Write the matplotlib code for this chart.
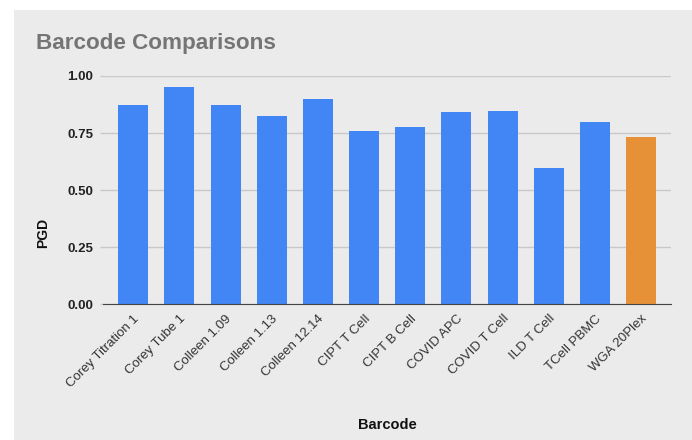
import matplotlib
matplotlib.use('Agg')
import matplotlib.pyplot as plt
from matplotlib.patches import Rectangle

plt.rcParams['font.family'] = ['Liberation Sans', 'DejaVu Sans']

barcodes = ['Corey Titration 1', 'Corey Tube 1', 'Colleen 1.09', 'Colleen 1.13', 'Colleen 12.14',
            'CIPT T Cell', 'CIPT B Cell', 'COVID APC', 'COVID T Cell', 'ILD T Cell',
            'TCell PBMC', 'WGA 20Plex']
pgd = [0.873, 0.950, 0.873, 0.826, 0.898, 0.758, 0.775, 0.841, 0.847, 0.598, 0.800, 0.733]
bar_colors = ['#4285F4'] * 11 + ['#E69138']
yticks = [0.0, 0.25, 0.5, 0.75, 1.0]

BG = '#EBEBEB'
W, H = 692, 440
fig = plt.figure(figsize=(W/100, H/100), dpi=100, facecolor='white')
fig.patches.append(Rectangle((14/W, 0), 1-14/W, 1-10/H, transform=fig.transFigure,
                             facecolor=BG, edgecolor='none', zorder=-10))

ax = fig.add_axes([103/W, 1-304.3/H, 568/W, 228.3/H])
ax.set_facecolor(BG)
x = range(len(barcodes))
ax.bar(x, pgd, width=0.65, color=bar_colors, zorder=3)
ax.set_xlim(-0.657, 11.65); ax.set_ylim(0, 1.0)
ax.set_yticks(yticks)
ax.set_yticklabels([f'{v:.2f}' for v in yticks], fontsize=9.5, fontweight='bold', color='#222222')
ax.set_xticks(list(x))
ax.set_xticklabels(barcodes, rotation=45, ha='right', rotation_mode='anchor', fontsize=9.5, color='#333333')
ax.tick_params(axis='y', length=2, width=1, color='#C8C8C8', pad=5)
ax.tick_params(axis='x', length=0, pad=6)
ax.grid(axis='y', color='#C8C8C8', lw=1, zorder=0)
for s in ['top', 'right', 'left']: ax.spines[s].set_visible(False)
ax.spines['bottom'].set_color('#444444'); ax.spines['bottom'].set_zorder(4)

ax.set_ylabel('PGD', fontsize=10, fontweight='bold', color='#111111')
ax.yaxis.set_label_coords(-0.093, 0.312)
ax.set_xlabel('Barcode', fontsize=10.5, fontweight='bold', color='#111111')
ax.xaxis.set_label_coords(0.5, -0.498)

fig.text(36/W, 1-44/H, 'Barcode Comparisons', fontsize=16.2, fontweight='bold', color='#757575', va='center')

fig.savefig('out.png', dpi=100, facecolor='white')
